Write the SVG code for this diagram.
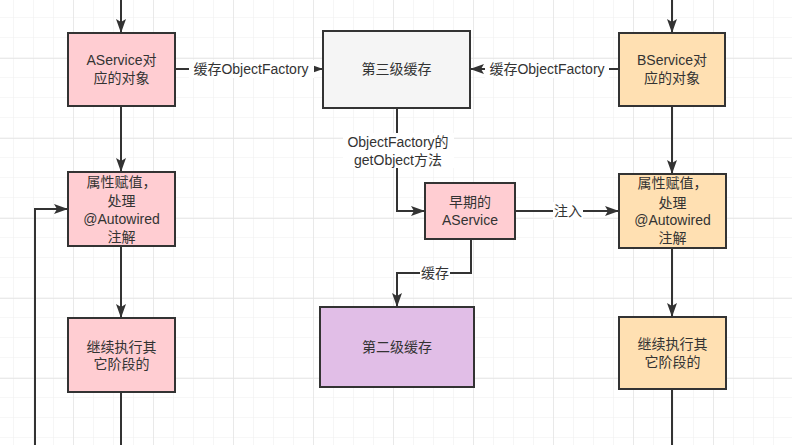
<svg xmlns="http://www.w3.org/2000/svg" width="792" height="445" viewBox="0 0 792 445">
<defs>
<pattern id="minor" x="13" y="17" width="20" height="20" patternUnits="userSpaceOnUse">
<path d="M0,0 V20 M0,0 H20" fill="none" stroke="#f0f0f0" stroke-width="1.2"/>
</pattern>
<pattern id="major" x="73" y="58" width="80" height="80" patternUnits="userSpaceOnUse">
<path d="M0,0 V80 M0,0 H80" fill="none" stroke="#e4e4e4" stroke-width="1.4"/>
</pattern>
<marker id="arr" markerUnits="userSpaceOnUse" markerWidth="16" markerHeight="12" refX="14" refY="5" orient="auto">
<path d="M0,0 L14,5 L0,10 L3,5 Z" fill="#333"/>
</marker>
</defs>
<style>
.box{stroke:#333;stroke-width:2}
.t{font-family:"Liberation Sans","Noto Sans CJK SC",sans-serif;font-size:14px;fill:#333;text-anchor:middle}
.e{fill:none;stroke:#333;stroke-width:2}
.lb{fill:#fff}
</style>
<rect width="792" height="445" fill="#fff"/>
<rect width="792" height="445" fill="url(#minor)"/>
<rect width="792" height="445" fill="url(#major)"/>

<g id="connectors">
<path class="e" d="M121,0 V33" marker-end="url(#arr)"/>
<path class="e" d="M672,0 V33" marker-end="url(#arr)"/>
<path class="e" d="M175,69 H323" marker-end="url(#arr)"/>
<path class="e" d="M619,69 H470" marker-end="url(#arr)"/>
<path class="e" d="M121,106 V172" marker-end="url(#arr)"/>
<path class="e" d="M121,246 V318" marker-end="url(#arr)"/>
<path class="e" d="M121,392 V445"/>
<path class="e" d="M35,445 V209 H68" marker-end="url(#arr)"/>
<path class="e" d="M672,106 V174" marker-end="url(#arr)"/>
<path class="e" d="M672,248 V317" marker-end="url(#arr)"/>
<path class="e" d="M672,389 V445"/>
<path class="e" d="M397,108 V211 H425" marker-end="url(#arr)"/>
<path class="e" d="M515,211 H619" marker-end="url(#arr)"/>
<path class="e" d="M471,239 V273 H397 V307" marker-end="url(#arr)"/>
<rect class="lb" x="189" y="60" width="125" height="18"/>
<text class="t" x="251" y="74">缓存ObjectFactory</text>
<rect class="lb" x="485" y="60" width="124" height="18"/>
<text class="t" x="547" y="74">缓存ObjectFactory</text>
<rect class="lb" x="343" y="133" width="111" height="35"/>
<text class="t" x="398" y="147">ObjectFactory的</text>
<text class="t" x="398" y="165">getObject方法</text>
<rect class="lb" x="553" y="202" width="30" height="18"/>
<text class="t" x="568" y="216">注入</text>
<rect class="lb" x="420" y="264" width="30" height="18"/>
<text class="t" x="435" y="278">缓存</text>
</g>

<g id="a-object">
<rect class="box" x="68" y="33" width="107" height="73" fill="#ffcdd2"/>
<text class="t" x="121.5" y="65">AService对</text>
<text class="t" x="121.5" y="83">应的对象</text>
</g>
<g id="third-cache">
<rect class="box" x="323" y="31" width="147" height="77" fill="#f5f5f5"/>
<text class="t" x="396.5" y="74">第三级缓存</text>
</g>
<g id="b-object">
<rect class="box" x="619" y="33" width="106" height="73" fill="#ffe0b2"/>
<text class="t" x="672" y="65">BService对</text>
<text class="t" x="672" y="83">应的对象</text>
</g>
<g id="a-populate">
<rect class="box" x="68" y="172" width="107" height="74" fill="#ffcdd2"/>
<text class="t" x="121.5" y="187">属性赋值，</text>
<text class="t" x="121.5" y="206">处理</text>
<text class="t" x="121.5" y="224">@Autowired</text>
<text class="t" x="121.5" y="242">注解</text>
</g>
<g id="early-a">
<rect class="box" x="425" y="183" width="90" height="56" fill="#ffcdd2"/>
<text class="t" x="470" y="207">早期的</text>
<text class="t" x="470" y="225">AService</text>
</g>
<g id="b-populate">
<rect class="box" x="619" y="174" width="107" height="74" fill="#ffe0b2"/>
<text class="t" x="672.5" y="188">属性赋值，</text>
<text class="t" x="672.5" y="208">处理</text>
<text class="t" x="672.5" y="225">@Autowired</text>
<text class="t" x="672.5" y="243">注解</text>
</g>
<g id="a-continue">
<rect class="box" x="68" y="318" width="107" height="74" fill="#ffcdd2"/>
<text class="t" x="121.5" y="352">继续执行其</text>
<text class="t" x="121.5" y="369">它阶段的</text>
</g>
<g id="second-cache">
<rect class="box" x="320" y="307" width="154" height="80" fill="#e1bee7"/>
<text class="t" x="397" y="352">第二级缓存</text>
</g>
<g id="b-continue">
<rect class="box" x="619" y="317" width="107" height="72" fill="#ffe0b2"/>
<text class="t" x="672.5" y="349">继续执行其</text>
<text class="t" x="672.5" y="367">它阶段的</text>
</g>
</svg>
